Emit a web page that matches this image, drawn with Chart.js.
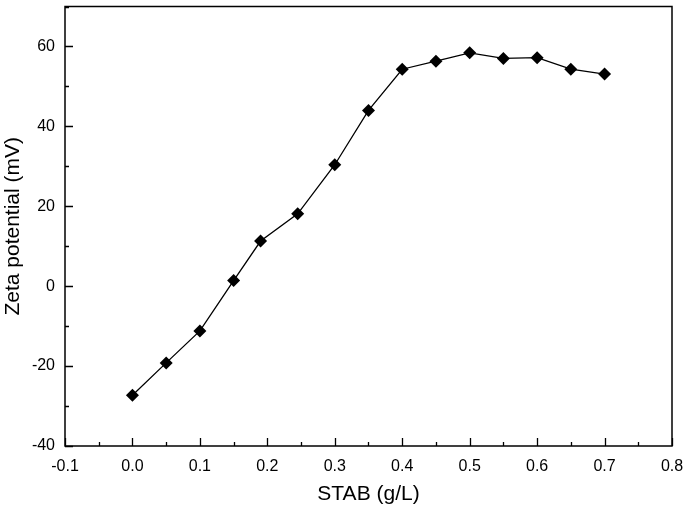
<!DOCTYPE html>
<html>
<head>
<meta charset="utf-8">
<script src="https://cdn.jsdelivr.net/npm/chart.js@4.4.0/dist/chart.umd.min.js"></script>
<style>
  html, body { margin: 0; padding: 0; background: #fff; }
  #wrap { width: 685px; height: 509px; }
</style>
</head>
<body>
<div id="wrap"><canvas id="zetaChart"></canvas></div>
<script>
// STAB concentration (g/L) and measured zeta potential (mV)
const stabConc = [0.0, 0.05, 0.1, 0.15, 0.19, 0.245, 0.3, 0.35, 0.4, 0.45, 0.5, 0.55, 0.6, 0.65, 0.7];
const zetaMv = [-27.3, -19.2, -11.2, 1.4, 11.3, 18.1, 30.4, 44.0, 54.3, 56.3, 58.4, 57.0, 57.2, 54.3, 53.1];

const xTitle = 'STAB (g/L)';
const yTitle = 'Zeta potential (mV)';

const FONT = "'Liberation Sans', Arial, sans-serif";

// frame + inward ticks (major / minor)
const framePlugin = {
    id: 'frame',
    afterDraw(chart) {
        const ctx = chart.ctx;
        const a = chart.chartArea;
        const xs = chart.scales.x;
        const ys = chart.scales.y;
        ctx.save();
        ctx.strokeStyle = '#000';
        ctx.lineWidth = 1.5;
        ctx.strokeRect(a.left, a.top, a.right - a.left, a.bottom - a.top);
        ctx.lineWidth = 1.3;
        ctx.beginPath();
        xs.ticks.forEach(t => {
            const px = Math.round(xs.getPixelForValue(t.value)) + 0.5;
            const major = Math.round(t.value * 100) % 10 === 0;
            ctx.moveTo(px, a.bottom);
            ctx.lineTo(px, a.bottom - (major ? 8 : 4));
        });
        ys.ticks.forEach(t => {
            const py = Math.round(ys.getPixelForValue(t.value)) + 0.5;
            const major = Math.round(t.value) % 20 === 0;
            ctx.moveTo(a.left, py);
            ctx.lineTo(a.left + (major ? 8 : 4), py);
        });
        ctx.stroke();
        ctx.restore();
    }
};

const ctx = document.getElementById('zetaChart').getContext('2d');
const zetaChart = new Chart(ctx, {
    type: 'line',
    data: {
        datasets: [{
            label: 'Zeta potential',
            data: stabConc.map((x, i) => ({ x: x, y: zetaMv[i] })),
            borderColor: '#000',
            backgroundColor: '#000',
            borderWidth: 1.3,
            pointStyle: 'rectRot',
            pointRadius: 6.5,
            pointBorderWidth: 0,
            fill: false,
            tension: 0
        }]
    },
    options: {
        responsive: true,
        maintainAspectRatio: false,
        animation: false,
        devicePixelRatio: 1,
        layout: { padding: { top: 3, right: 13, left: 0, bottom: 0 } },
        plugins: {
            legend: { display: false },
            tooltip: { enabled: false }
        },
        scales: {
            x: {
                type: 'linear',
                min: -0.1,
                max: 0.8,
                grid: { display: false, drawTicks: false },
                border: { display: false },
                ticks: {
                    stepSize: 0.05,
                    color: '#000',
                    padding: 11,
                    maxRotation: 0,
                    autoSkip: false,
                    font: { family: FONT, size: 16 },
                    callback: v => (Math.round(v * 100) % 10 === 0 ? v.toFixed(1) : '')
                },
                title: {
                    display: true,
                    text: xTitle,
                    color: '#000',
                    font: { family: FONT, size: 21 },
                    padding: { top: 0, bottom: 2 }
                },
                afterFit: s => {
                    s.height = 63;
                    s.paddingLeft = 0;
                    s.paddingRight = 0;
                }
            },
            y: {
                type: 'linear',
                min: -40,
                max: 70,
                grid: { display: false, drawTicks: false },
                border: { display: false },
                ticks: {
                    stepSize: 10,
                    color: '#000',
                    padding: 10,
                    autoSkip: false,
                    font: { family: FONT, size: 16 },
                    callback: v => (Math.round(v) % 20 === 0 && v !== 70 ? String(v) : '')
                },
                title: {
                    display: true,
                    text: yTitle,
                    color: '#000',
                    font: { family: FONT, size: 21 },
                    padding: { top: 1, bottom: 0 }
                },
                afterFit: s => {
                    s.width = 65;
                    s.paddingTop = 0;
                    s.paddingBottom = 0;
                }
            }
        }
    },
    plugins: [framePlugin]
});
</script>
</body>
</html>
